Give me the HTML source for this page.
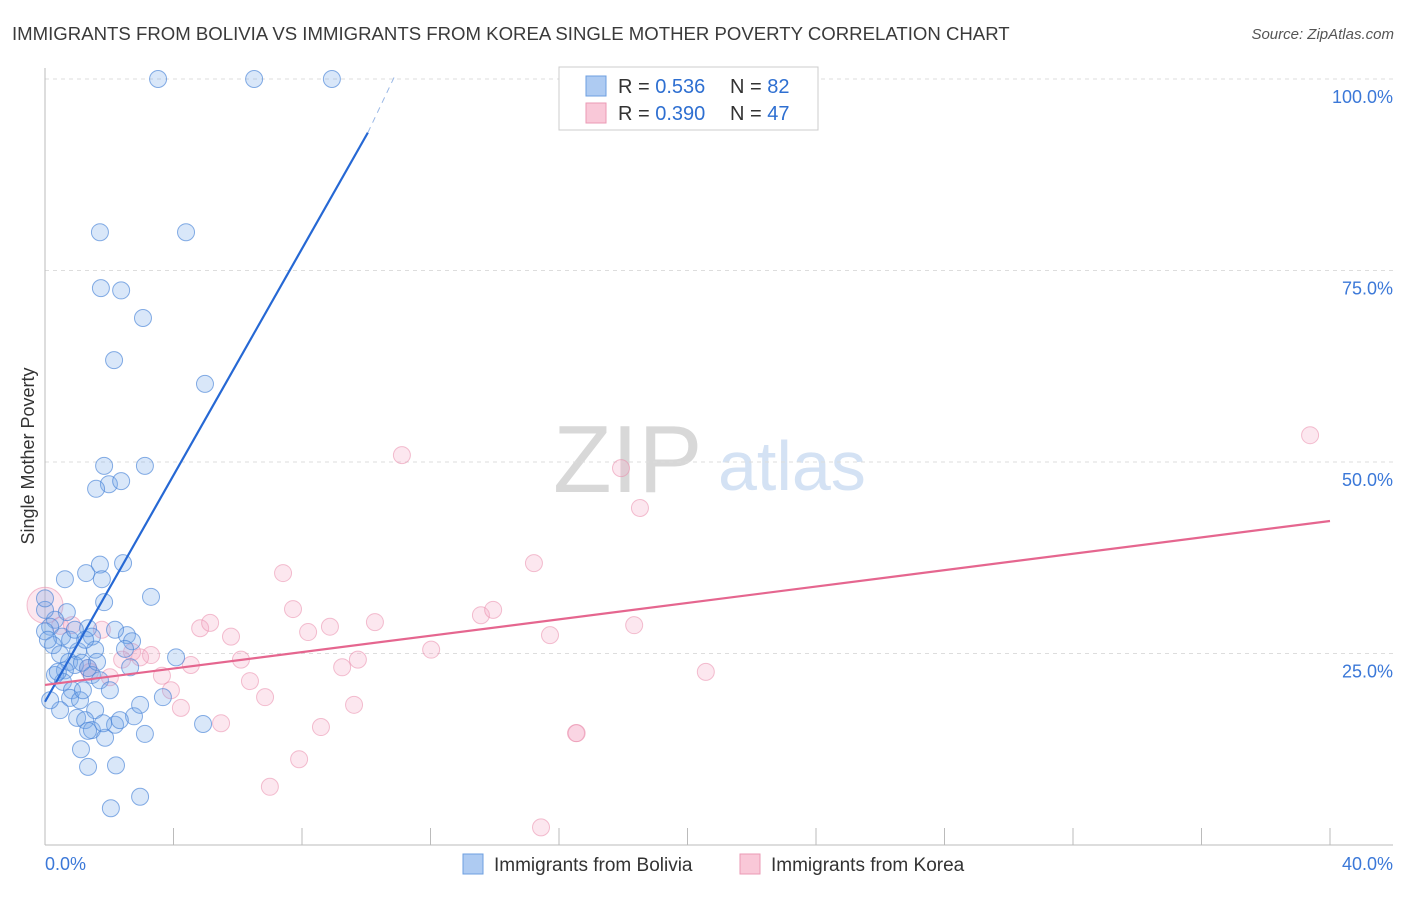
<!DOCTYPE html>
<html><head><meta charset="utf-8"><style>
body{margin:0;background:#fff;font-family:"Liberation Sans",sans-serif;}
svg text{font-family:"Liberation Sans",sans-serif;}
</style></head><body>
<svg id="c" width="1406" height="892">
<text x="12" y="40" font-size="18.6" fill="#3a3a3a">IMMIGRANTS FROM BOLIVIA VS IMMIGRANTS FROM KOREA SINGLE MOTHER POVERTY CORRELATION CHART</text>
<text x="1394" y="39" font-size="15" fill="#555" text-anchor="end" font-style="italic">Source: ZipAtlas.com</text>
<text x="34" y="456" font-size="18" fill="#333" text-anchor="middle" transform="rotate(-90 34 456)">Single Mother Poverty</text>
<text x="553" y="492" font-size="96" fill="#d8d8d8" font-family="Liberation Serif">ZIP</text>
<text x="718" y="490" font-size="70" fill="#d4e2f4">atlas</text>
<g id="grid"></g><g id="pts"></g><g id="lines"></g>
<g>
<rect x="559" y="67" width="259" height="63" fill="#fff" stroke="#ccc"/>
<rect x="586" y="76" width="20" height="20" fill="#aecbf2" stroke="#6d9fe0"/>
<text x="618" y="93" font-size="20" fill="#333">R = <tspan fill="#2e6fd1">0.536</tspan></text>
<text x="730" y="93" font-size="20" fill="#333">N = <tspan fill="#2e6fd1">82</tspan></text>
<rect x="586" y="103" width="20" height="20" fill="#f9c8d8" stroke="#eb9ab5"/>
<text x="618" y="120" font-size="20" fill="#333">R = <tspan fill="#2e6fd1">0.390</tspan></text>
<text x="730" y="120" font-size="20" fill="#333">N = <tspan fill="#2e6fd1">47</tspan></text>
</g>
<g>
<rect x="463" y="854" width="20" height="20" fill="#aecbf2" stroke="#6d9fe0"/>
<text x="494" y="871" font-size="19" fill="#333">Immigrants from Bolivia</text>
<rect x="740" y="854" width="20" height="20" fill="#f9c8d8" stroke="#eb9ab5"/>
<text x="771" y="871" font-size="19" fill="#333">Immigrants from Korea</text>
</g>
</svg>
<script>
const yTicks=[100,75,50,25];
const yTickLabels=["100.0%","75.0%","50.0%","25.0%"];
const xTickLabels=["0.0%","40.0%"];
const bolX=[3.52,6.51,8.93,1.71,4.39,1.74,2.37,3.05,2.15,4.98,1.84,3.11,1.99,1.59,2.37,0.62,1.28,1.71,2.43,1.77,3.30,1.84,0.68,0.31,0.16,0.53,1.34,1.46,2.55,2.71,2.49,1.03,0,0.25,0.47,0.75,0.93,1.34,1.46,0.62,0.31,0.56,0.84,0.78,1.09,1.56,1.00,1.25,1.46,1.87,2.18,1.81,2.77,2.96,3.11,3.67,4.08,4.92,1.12,1.34,2.21,2.05,2.96,2.65,0,0.09,1.15,0.47,1.62,0,1.71,1.34,0.78,0.40,1.18,2.33,2.02,1.56,2.18,0.16,0.93,1.25];
const bolY=[100,100,100,80.0,80.0,72.7,72.4,68.8,63.3,60.2,49.5,49.5,47.1,46.5,47.5,34.7,35.5,36.6,36.8,34.7,32.4,31.7,30.4,29.4,28.5,27.2,28.3,27.2,27.4,26.6,25.6,25.3,27.9,26.1,24.9,23.9,23.5,23.1,22.2,22.8,22.2,21.3,20.2,19.2,18.9,17.6,16.6,16.3,15.0,14.0,15.7,15.9,16.8,18.3,14.5,19.3,24.5,15.8,12.5,10.2,10.4,4.8,6.3,23.2,30.7,26.8,23.8,17.6,23.9,32.2,21.5,14.9,26.8,22.6,20.2,16.3,20.2,25.5,28.1,18.9,28.1,26.8];
const korX=[0,0.47,1.77,1.34,2.02,2.40,2.71,3.30,2.96,3.64,3.92,4.23,4.54,4.83,5.14,5.48,5.79,6.10,6.38,6.85,7.41,7.72,7.91,8.19,8.59,8.87,9.25,9.62,9.74,10.27,11.11,12.02,13.57,13.95,15.22,15.44,15.72,16.53,16.55,17.93,18.52,18.34,20.57,39.38,7.00,1.40,0.84];
const korY=[31.3,28.6,28.1,23.1,21.9,24.2,25.2,24.8,24.5,22.1,20.2,17.9,23.5,28.3,29.0,15.9,27.2,24.2,21.4,19.3,35.5,30.8,11.2,27.8,15.4,28.5,23.2,18.3,24.2,29.1,50.9,25.5,30.0,30.7,36.8,2.3,27.4,14.6,14.6,49.2,44.0,28.7,22.6,53.5,7.6,22.6,28.7];
const bolTrend=[[0,18.7],[10.05,93.0],[10.9,100.5]];
const korTrend=[[0,20.9],[40,42.3]];
const NS="http://www.w3.org/2000/svg";
const sx=v=>45+v/40*1285, sy=v=>845-v/100*766;
function mk(t,a,p){const e=document.createElementNS(NS,t);for(const k in a)e.setAttribute(k,a[k]);p.appendChild(e);return e;}
const grid=document.getElementById('grid');
yTicks.forEach((t,i)=>{
 const l=mk('line',{x1:45,x2:1393,y1:sy(t),y2:sy(t),stroke:'#ddd','stroke-dasharray':'4,4'},grid);
 
 
 const tx=mk('text',{x:1393,y:sy(t)+24,'font-size':18,fill:'#3b78d8','text-anchor':'end'},grid);
 tx.textContent=yTickLabels[i];
 
 
});
const ax=mk('line',{x1:45,x2:1393,y1:845,y2:845,stroke:'#bbb'},grid);


const ay=mk('line',{x1:45,x2:45,y1:68,y2:845,stroke:'#bbb'},grid);


for(let i=1;i<=10;i++){const t=mk('line',{x1:sx(i*4),x2:sx(i*4),y1:828,y2:845,stroke:'#bbb'},grid);
 
 }
[[0,'start'],[40,'end']].forEach((d,i)=>{const t=mk('text',{x:i?1393:45,y:870,'font-size':18,fill:'#3b78d8','text-anchor':d[1]},grid);t.textContent=xTickLabels[i];
 
 });
const pts=document.getElementById('pts');
korX.forEach((x,i)=>{const c=mk('circle',{cx:sx(x),cy:sy(korY[i]),r:i==0?18:8.5,fill:'rgba(246,170,198,0.28)',stroke:'rgba(234,140,172,0.55)'},pts);
 
 });
bolX.forEach((x,i)=>{const c=mk('circle',{cx:sx(x),cy:sy(bolY[i]),r:8.5,fill:'rgba(120,168,232,0.28)',stroke:'rgba(70,130,215,0.65)'},pts);
 
 });
const ln=document.getElementById('lines');
const b1=mk('line',{x1:sx(bolTrend[0][0]),y1:sy(bolTrend[0][1]),x2:sx(bolTrend[1][0]),y2:sy(bolTrend[1][1]),stroke:'#2668d4','stroke-width':2.2},ln);


const b2=mk('line',{x1:sx(bolTrend[1][0]),y1:sy(bolTrend[1][1]),x2:sx(bolTrend[2][0]),y2:sy(bolTrend[2][1]),stroke:'#9ab8e6','stroke-width':1,'stroke-dasharray':'6,5'},ln);


const k1=mk('line',{x1:sx(korTrend[0][0]),y1:sy(korTrend[0][1]),x2:sx(korTrend[1][0]),y2:sy(korTrend[1][1]),stroke:'#e5668f','stroke-width':2.2},ln);


</script>
</body></html>
